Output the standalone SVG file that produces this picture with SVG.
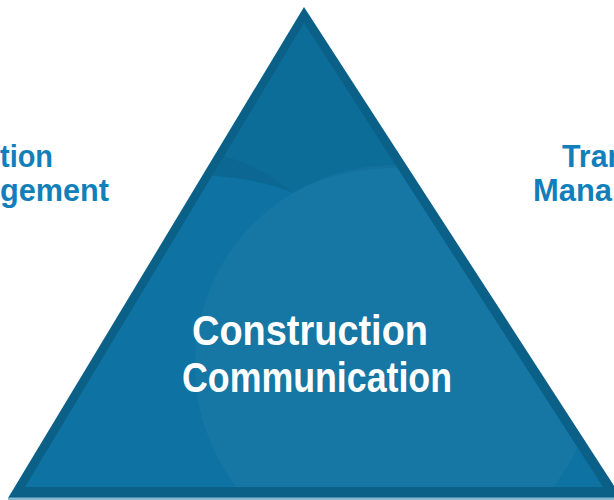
<svg xmlns="http://www.w3.org/2000/svg" width="614" height="500" viewBox="0 0 614 500">
  <style>
    .side { font-family: "Liberation Sans", Arial, sans-serif; font-weight: bold; font-size: 32px; fill: #137fba; }
    .main { font-family: "Liberation Sans", Arial, sans-serif; font-weight: bold; font-size: 43px; fill: #ffffff; }
  </style>
  <defs>
    <clipPath id="inner">
      <polygon points="304,23 25,487 603,487"/>
    </clipPath>
  </defs>
  <rect width="614" height="500" fill="#ffffff"/>

  <g id="triangle">
    <polygon points="304,7 8,498 622,498" fill="#0b6088"/>
    <rect x="8" y="497.5" width="606" height="2.5" fill="#8ab7d0"/>
    <polygon points="304,23 25,487 603,487" fill="#0e73a2"/>
    <g clip-path="url(#inner)">
      <circle cx="395" cy="365" r="200" fill="#ffffff" opacity="0.035"/>
      <path d="M304,0 L200,175 Q260,178 293,193 Q340,165 420,168 L420,0 Z" fill="#000000" opacity="0.05"/>
      <path d="M200,150 Q255,160 293,193 Q260,178 200,175 Z" fill="#000000" opacity="0.04"/>
    </g>
  </g>

  <g id="label-center">
    <text class="main" x="192" y="345" textLength="236" lengthAdjust="spacingAndGlyphs">Construction</text>
    <text class="main" x="182" y="392" textLength="270" lengthAdjust="spacingAndGlyphs">Communication</text>
  </g>

  <g id="label-left">
    <text class="side" x="0" y="167" textLength="53" lengthAdjust="spacingAndGlyphs">tion</text>
    <text class="side" x="0" y="201" textLength="109" lengthAdjust="spacingAndGlyphs">gement</text>
  </g>

  <g id="label-right">
    <text class="side" x="562" y="167" textLength="64" lengthAdjust="spacingAndGlyphs">Tran</text>
    <text class="side" x="533" y="201" textLength="79" lengthAdjust="spacingAndGlyphs">Mana</text>
  </g>

  <g id="connectors"></g>
</svg>
